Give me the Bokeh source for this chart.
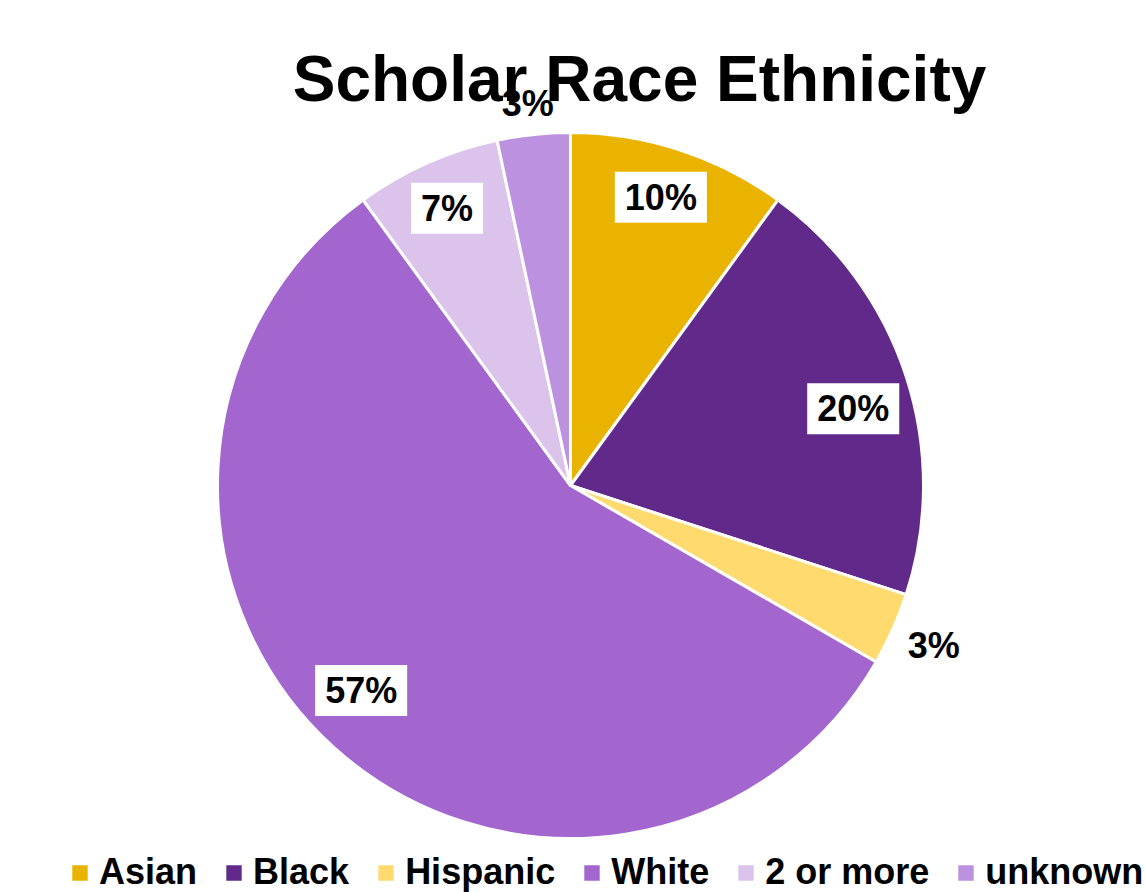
import math
from bokeh.plotting import figure
from bokeh.models import Legend, LegendItem, Label, ColumnDataSource
from bokeh.core.properties import value
from bokeh.embed import file_html
from bokeh.resources import INLINE

# ---- data ----
categories = ["Asian", "Black", "Hispanic", "White", "2 or more", "unknown"]
counts = [3, 6, 1, 17, 2, 1]
colors = ["#EAB300", "#612A8A", "#FFDA6E", "#A366CF", "#DCC3EC", "#BC91DF"]
title_text = "Scholar Race Ethnicity"

# ---- layout (positions/styles, not data) ----
W, H = 1145, 892
CX, CY = 570, 485          # pie centre in pixels from top-left
R = 353
label_r = [0.856, 0.83, 1.125, 0.83, 0.86, 1.088]
label_da = [-0.6, 2.8, -0.2, 3.6, 0.0, -0.4]   # degrees, clockwise nudge
label_bg = [1, 1, 0, 1, 1, 0]

total = sum(counts)
starts, ends, lx, ly, txt = [], [], [], [], []
cum = 0.0
for i, c in enumerate(counts):
    f0 = cum / total
    cum += c
    f1 = cum / total
    a0 = math.pi / 2 - 2 * math.pi * f0
    a1 = math.pi / 2 - 2 * math.pi * f1
    starts.append(a0)
    ends.append(a1)
    am = (a0 + a1) / 2 - math.radians(label_da[i])
    lx.append(label_r[i] * R * math.cos(am))
    ly.append(label_r[i] * R * math.sin(am))
    txt.append(f"{round(100 * c / total)}%")

p = figure(width=W, height=H, output_backend="svg", toolbar_location=None,
           x_range=(-CX, W - CX), y_range=(-(H - CY), CY),
           min_border=0, outline_line_color=None)
p.axis.visible = False
p.grid.visible = False
p.background_fill_color = "white"
p.border_fill_color = "white"

src = ColumnDataSource(dict(cat=categories, start=starts, end=ends, color=colors))
wed = p.wedge(x=0, y=0, radius=R, start_angle="start", end_angle="end",
              direction="clock", fill_color="color", line_color="white",
              line_width=3, source=src)

title = Label(x=639, y=H - 78, x_units="screen", y_units="screen",
              text=title_text, text_font="Liberation Sans", text_font_style="bold",
              text_font_size="64px", text_color="black",
              text_align="center", text_baseline="alphabetic")
p.add_layout(title)

lsrc = ColumnDataSource(dict(x=lx, y=ly, text=txt, bg=label_bg))
p.text(x="x", y="y", text="text", source=lsrc,
       text_font=value("Liberation Sans"), text_font_style="bold",
       text_font_size="36px", text_color="black",
       text_align="center", text_baseline="middle",
       background_fill_color="white", background_fill_alpha="bg",
       padding=(10, 5))

items = [LegendItem(label=categories[i], renderers=[wed], index=i) for i in range(len(categories))]
legend = Legend(items=items, orientation="horizontal", location=(68, -1),
                label_text_font="Liberation Sans", label_text_font_style="bold",
                label_text_font_size="36px", label_text_color="black",
                glyph_width=23, glyph_height=23, label_standoff=8, spacing=25,
                padding=0, margin=0, border_line_color=None,
                background_fill_alpha=0)
p.add_layout(legend, "center")

open("out.html", "w").write(file_html(p, INLINE))
